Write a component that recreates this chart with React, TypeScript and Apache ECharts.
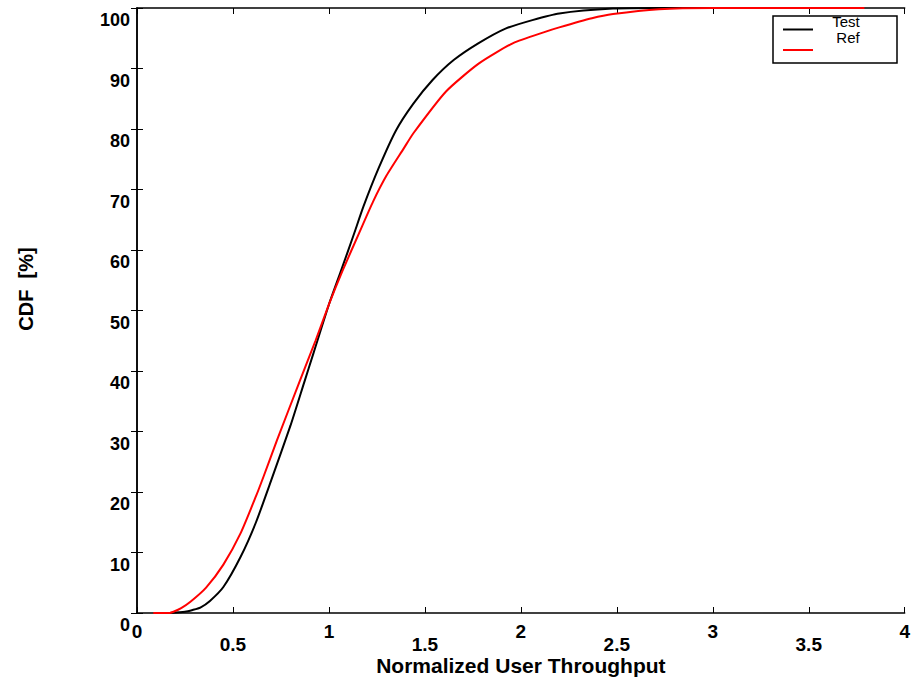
import React, { useEffect, useRef } from "react";
import * as echarts from "echarts";

const testX = [0.17, 0.25, 0.29, 0.33, 0.38, 0.45, 0.54, 0.62, 0.70, 0.80, 0.87, 0.92, 1.0, 1.06, 1.13, 1.18, 1.26, 1.35, 1.44, 1.54, 1.65, 1.78, 1.92, 2.06, 2.2, 2.48, 2.72, 3.0, 3.4];
const testY = [0, 0.2, 0.5, 0.9, 2.0, 4.3, 9.3, 15, 22, 31, 38, 43, 51, 56.3, 62.6, 67.2, 73.6, 79.8, 84.2, 88.1, 91.4, 94.2, 96.6, 98, 99.1, 99.9, 100, 100, 100];

const refX = [0.085, 0.17, 0.19, 0.23, 0.28, 0.36, 0.45, 0.54, 0.62, 0.66, 0.73, 0.85, 0.93, 1.0, 1.07, 1.16, 1.23, 1.30, 1.39, 1.44, 1.61, 1.78, 1.96, 2.13, 2.2, 2.37, 2.48, 2.72, 3.0, 3.79];
const refY = [0, 0, 0.2, 0.8, 1.9, 4.2, 8.0, 13.2, 19.3, 22.6, 28.6, 38.5, 45, 51, 56.5, 63, 68, 72.3, 76.8, 79.3, 86.2, 90.8, 94.2, 96.1, 96.8, 98.3, 99.0, 99.8, 100, 100];

const seriesNames = ["Test", "Ref"];
const xAxisTitle = "Normalized User Throughput";
const yAxisTitle = "CDF  [%]";

const FONT = "'Liberation Sans', Arial, Helvetica, sans-serif";

export default function App() {
  const ref = useRef<HTMLDivElement>(null);
  useEffect(() => {
    if (!ref.current) return;
    const chart = echarts.init(ref.current, null, { renderer: "svg" });
    const tick = { show: true, inside: true, length: 6, lineStyle: { color: "#000", width: 1 } };
    const line = { show: true, lineStyle: { color: "#000", width: 1.5 } };
    const labelStyle = { color: "#000", fontFamily: FONT, fontWeight: "bold" as const, fontSize: 19, lineHeight: 17 };
    chart.setOption({
      animation: false,
      backgroundColor: "#fff",
      grid: { left: 137, right: 7, top: 8, bottom: 72, containLabel: false },
      xAxis: [
        {
          type: "value", position: "bottom", min: 0, max: 4, interval: 0.5,
          axisLine: line, axisTick: tick, splitLine: { show: false },
          axisLabel: { ...labelStyle, margin: 10, formatter: (v: number) => (Number.isInteger(v) ? String(v) : "") },
          name: xAxisTitle, nameLocation: "middle", nameGap: 43,
          nameTextStyle: { ...labelStyle, fontSize: 21, lineHeight: 18 },
        },
        {
          type: "value", position: "bottom", min: 0, max: 4, interval: 0.5,
          axisLine: { show: false }, axisTick: { show: false }, splitLine: { show: false },
          axisLabel: { ...labelStyle, margin: 23, formatter: (v: number) => (Number.isInteger(v) ? "" : String(v)) },
        },
        {
          type: "value", position: "top", min: 0, max: 4, interval: 0.5,
          axisLine: line, axisTick: tick, splitLine: { show: false }, axisLabel: { show: false },
        },
      ],
      yAxis: [
        {
          type: "value", position: "left", min: 0, max: 100, interval: 10,
          axisLine: line, axisTick: tick, splitLine: { show: false },
          axisLabel: { ...labelStyle, fontSize: 18, lineHeight: 20, margin: 7, verticalAlign: "top", padding: [2, 0, 0, 0] },
        },
        {
          type: "value", position: "right", min: 0, max: 100, interval: 10,
          axisLine: line, axisTick: tick, splitLine: { show: false }, axisLabel: { show: false },
        },
      ],
      series: [
        {
          name: seriesNames[0], type: "line", xAxisIndex: 0, yAxisIndex: 0,
          data: testX.map((x, i) => [x, testY[i]]),
          showSymbol: false, clip: false, smooth: 0.2,
          lineStyle: { color: "#000", width: 2 },
        },
        {
          name: seriesNames[1], type: "line", xAxisIndex: 0, yAxisIndex: 0,
          data: refX.map((x, i) => [x, refY[i]]),
          showSymbol: false, clip: false, smooth: 0.2,
          lineStyle: { color: "#ff0000", width: 2 },
        },
      ],
      graphic: [
        {
          type: "text", x: 26, y: 289, rotation: Math.PI / 2,
          style: { text: yAxisTitle, fill: "#000", fontFamily: FONT, fontWeight: "bold", fontSize: 20, align: "center", verticalAlign: "middle" },
        },
        {
          type: "rect", shape: { x: 773, y: 16, width: 124, height: 47 },
          style: { fill: "#fff", stroke: "#000", lineWidth: 1.5 }, z: 10,
        },
        {
          type: "line", shape: { x1: 783, y1: 29.5, x2: 813, y2: 29.5 },
          style: { stroke: "#000", lineWidth: 2 }, z: 11,
        },
        {
          type: "line", shape: { x1: 783, y1: 50, x2: 813, y2: 50 },
          style: { stroke: "#ff0000", lineWidth: 2 }, z: 11,
        },
        {
          type: "text", x: 846, y: 21, z: 11,
          style: { text: seriesNames[0], fill: "#000", fontFamily: FONT, fontSize: 15, align: "center", verticalAlign: "middle" },
        },
        {
          type: "text", x: 848, y: 37.5, z: 11,
          style: { text: seriesNames[1], fill: "#000", fontFamily: FONT, fontSize: 15, align: "center", verticalAlign: "middle" },
        },
      ],
    });
    return () => chart.dispose();
  }, []);
  return <div ref={ref} style={{ position: "absolute", left: 0, top: 0, width: 913, height: 685 }} />;
}
